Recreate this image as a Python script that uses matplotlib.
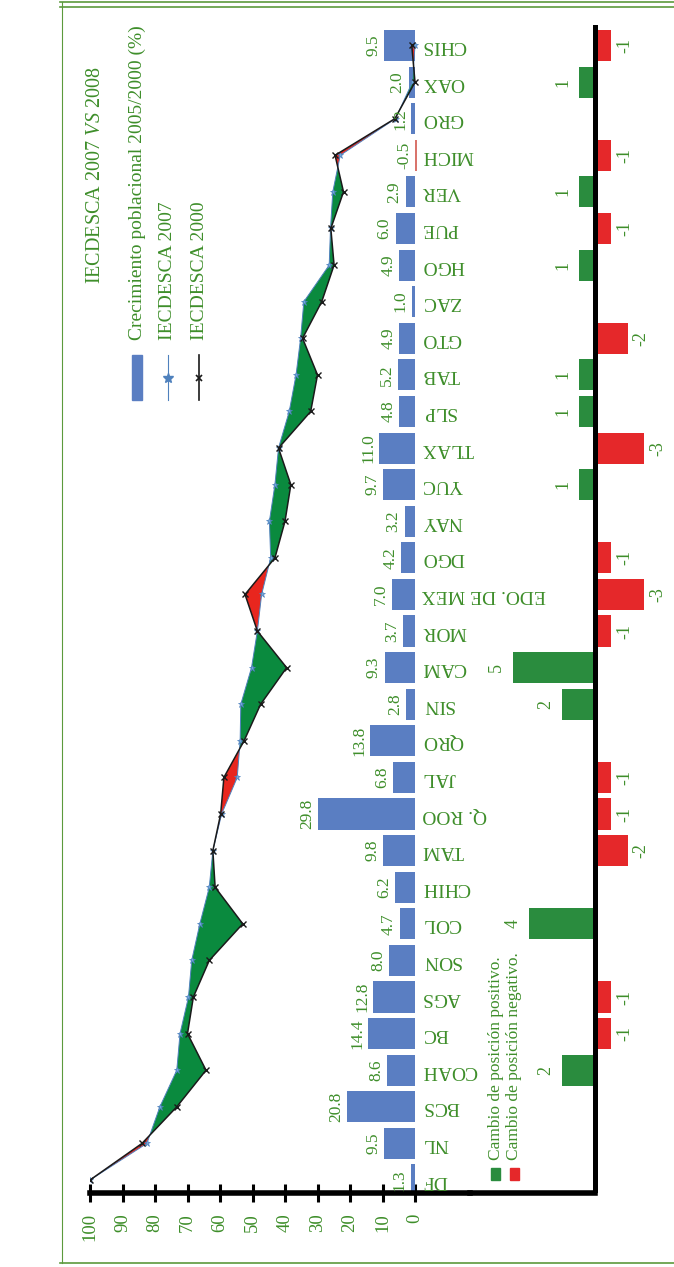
import matplotlib
matplotlib.use('Agg')
import matplotlib.pyplot as plt
import numpy as np
from matplotlib.lines import Line2D
from matplotlib.patches import Rectangle

plt.rcParams['font.family'] = ['Liberation Serif', 'DejaVu Serif']
plt.rcParams['mathtext.fontset'] = 'custom'
plt.rcParams['mathtext.rm'] = 'Liberation Serif'
plt.rcParams['mathtext.it'] = 'Liberation Serif:italic'

# ---------------- data ----------------
cats = ['DF', 'NL', 'BCS', 'COAH', 'BC', 'AGS', 'SON', 'COL', 'CHIH', 'TAM',
        'Q. ROO', 'JAL', 'QRO', 'SIN', 'CAM', 'MOR', 'EDO. DE MEX', 'DGO',
        'NAY', 'YUC', 'TLAX', 'SLP', 'TAB', 'GTO', 'ZAC', 'HGO', 'PUE', 'VER',
        'MICH', 'GRO', 'OAX', 'CHIS']

growth = [1.3, 9.5, 20.8, 8.6, 14.4, 12.8, 8.0, 4.7, 6.2, 9.8,
          29.8, 6.8, 13.8, 2.8, 9.3, 3.7, 7.0, 4.2,
          3.2, 9.7, 11.0, 4.8, 5.2, 4.9, 1.0, 4.9, 6.0, 2.9,
          -0.5, 1.2, 2.0, 9.5]

iec2007 = [100, 82.5, 78.5, 73.3, 72.3, 69.7, 68.7, 66.2, 63.3, 62.2,
           59.5, 54.7, 53.8, 53.6, 50.3, 48.5, 47.2, 44.4,
           44.8, 43.1, 42.0, 38.7, 36.6, 35.2, 34.2, 26.4, 26.0, 25.3,
           23.0, 6.0, 0.8, 0.0]

iec2000 = [100, 84.0, 73.3, 64.3, 70.0, 68.2, 63.3, 53.0, 61.5, 62.2,
           59.8, 58.8, 52.6, 47.5, 39.5, 48.5, 52.3, 43.1,
           40.0, 38.2, 42.0, 32.1, 30.0, 34.6, 28.7, 24.9, 25.9, 22.0,
           24.6, 6.2, 0.0, 1.0]

pos_change = [0, 0, 0, 2, -1, -1, 0, 4, 0, -2,
              -1, -1, 0, 2, 5, -1, -3, -1,
              0, 1, -3, 1, 1, -2, 0, 1, -1, 1,
              -1, 0, 1, -1]

value_ticks = list(range(0, 101, 10))

title_txt = r'IECDESCA 2007 $\mathit{VS}$ 2008'
leg_labels = ['Crecimiento poblacional 2005/2000 (%)', 'IECDESCA 2007', 'IECDESCA 2000']
leg2_labels = ['Cambio de posición positivo.', 'Cambio de posición negativo.']

# ---------------- style ----------------
GREEN_TXT = '#3e8e2a'
BLUE_BAR = '#5a7ec2'
NEG_BAR = '#d9746c'
FILL_G = '#0a8a3e'
FILL_R = '#e8261e'
POS_G = '#2a8c3e'
POS_R = '#e5282a'

W, H = 674, 1267
fig = plt.figure(figsize=(W / 100, H / 100), dpi=100)


def fx(px):
    return px / W


def fy(py):
    return 1 - py / H


ax = fig.add_axes([fx(90), fy(1193), fx(470) - fx(90), fy(25) - fy(1193)])
ax2 = fig.add_axes([fx(470), fy(1193), fx(674) - fx(470), fy(25) - fy(1193)])

y = np.arange(len(cats))
g = np.array(growth)
a7 = np.array(iec2007, dtype=float)
a0 = np.array(iec2000, dtype=float)

YLIM = (-0.355, 31.56)

# main bars
ax.barh(y, g, height=0.85, color=[BLUE_BAR if v >= 0 else NEG_BAR for v in g],
        zorder=2)
ax.set_xlim(100, -16.92)
ax.set_ylim(*YLIM)
for s in ['top', 'right', 'left']:
    ax.spines[s].set_visible(False)
ax.spines['bottom'].set_linewidth(4)
ax.set_xticks(value_ticks)
ax.tick_params(axis='x', direction='inout', length=13, width=2.2,
               labelsize=13.5, labelcolor=GREEN_TXT, labelrotation=90, pad=8)
ax.set_yticks([])
ax.patch.set_alpha(0)

# category labels
for i, c in enumerate(cats):
    ax.text(-2.15, i, c, rotation=180, ha='left', va='center', fontsize=14,
            color=GREEN_TXT, zorder=5)

# value labels
for i, v in enumerate(g):
    ax.text(max(v, 0) + 0.9, i, f'{v:.1f}', rotation=90, ha='right',
            va='center', fontsize=12.5, color=GREEN_TXT, zorder=5)

# filled difference between the two index lines
ax.fill_betweenx(y, a7, a0, where=a7 >= a0, interpolate=True, color=FILL_G,
                 lw=0, zorder=3)
ax.fill_betweenx(y, a7, a0, where=a7 < a0, interpolate=True, color=FILL_R,
                 lw=0, zorder=3)
ax.plot(a7, y, color='#4f81bd', lw=0.7, marker='*', ms=5, mfc='#6fa8dc',
        mec='#4f81bd', mew=0.5, zorder=4)
ax.plot(a0, y, color='#1a1a1a', lw=1.1, marker='x', ms=4, mew=1.0, zorder=4)

# lower panel: position change
p = np.array(pos_change)
ax2.barh(y, p, height=0.85, color=[POS_G if v > 0 else POS_R for v in p],
         zorder=2)
ax2.set_xlim(7.576, -4.788)
ax2.set_ylim(*YLIM)
for s in ['top', 'right', 'left']:
    ax2.spines[s].set_visible(False)
ax2.spines['bottom'].set_linewidth(4)
ax2.spines['bottom'].set_bounds(7.576, 0)
ax2.axvline(0, color='black', lw=3.6, zorder=3)
ax2.set_xticks([])
ax2.set_yticks([])
ax2.patch.set_alpha(0)
for i, v in enumerate(p):
    if v > 0:
        ax2.text(v + 0.45, i, str(v), rotation=90, ha='right', va='center',
                 fontsize=13, color=GREEN_TXT)
    elif v < 0:
        ax2.text(v - 0.27, i, str(v), rotation=90, ha='left', va='center',
                 fontsize=13, color=GREEN_TXT)

# ---------------- legends (rotated, drawn manually) ----------------
fig.text(fx(95), fy(175), title_txt, rotation=90, ha='center', va='center',
         fontsize=14.5, color=GREEN_TXT)
leg_x = [137, 168, 199]
for lx, lab in zip(leg_x, leg_labels):
    fig.text(fx(lx), fy(340), lab, rotation=90, ha='center', va='bottom',
             fontsize=14, color=GREEN_TXT)
fig.add_artist(Rectangle((fx(132), fy(400)), fx(10), fy(355) - fy(400),
                         transform=fig.transFigure, color=BLUE_BAR))
fig.add_artist(Line2D([fx(168), fx(168)], [fy(400), fy(355)],
                      transform=fig.transFigure, color='#4f81bd', lw=0.8))
fig.add_artist(Line2D([fx(168)], [fy(378)], transform=fig.transFigure,
                      marker='*', ms=7, mfc='#4f81bd', mec='#4f81bd'))
fig.add_artist(Line2D([fx(199), fx(199)], [fy(400), fy(355)],
                      transform=fig.transFigure, color='#1a1a1a', lw=1.2))
fig.add_artist(Line2D([fx(199)], [fy(378)], transform=fig.transFigure,
                      marker='x', ms=5, mew=1.2, color='#1a1a1a'))

leg2_x = [496, 514]
for lx, lab, col in zip(leg2_x, leg2_labels, [POS_G, POS_R]):
    fig.text(fx(lx), fy(1160), lab, rotation=90, ha='center', va='bottom',
             fontsize=12.5, color=GREEN_TXT)
    fig.add_artist(Rectangle((fx(lx - 4.5), fy(1180)), fx(9), fy(1168) - fy(1180),
                             transform=fig.transFigure, color=col))

# outer green frame
for yy in [2, 7]:
    fig.add_artist(Line2D([fx(60), 1], [fy(yy), fy(yy)], transform=fig.transFigure,
                          color='#5c9a3c', lw=1.2))
fig.add_artist(Line2D([fx(60), 1], [fy(1263), fy(1263)], transform=fig.transFigure,
                      color='#5c9a3c', lw=1.2))
fig.add_artist(Line2D([fx(62), fx(62)], [fy(2), fy(1263)], transform=fig.transFigure,
                      color='#5c9a3c', lw=0.8))

fig.savefig('out.png', dpi=100)
